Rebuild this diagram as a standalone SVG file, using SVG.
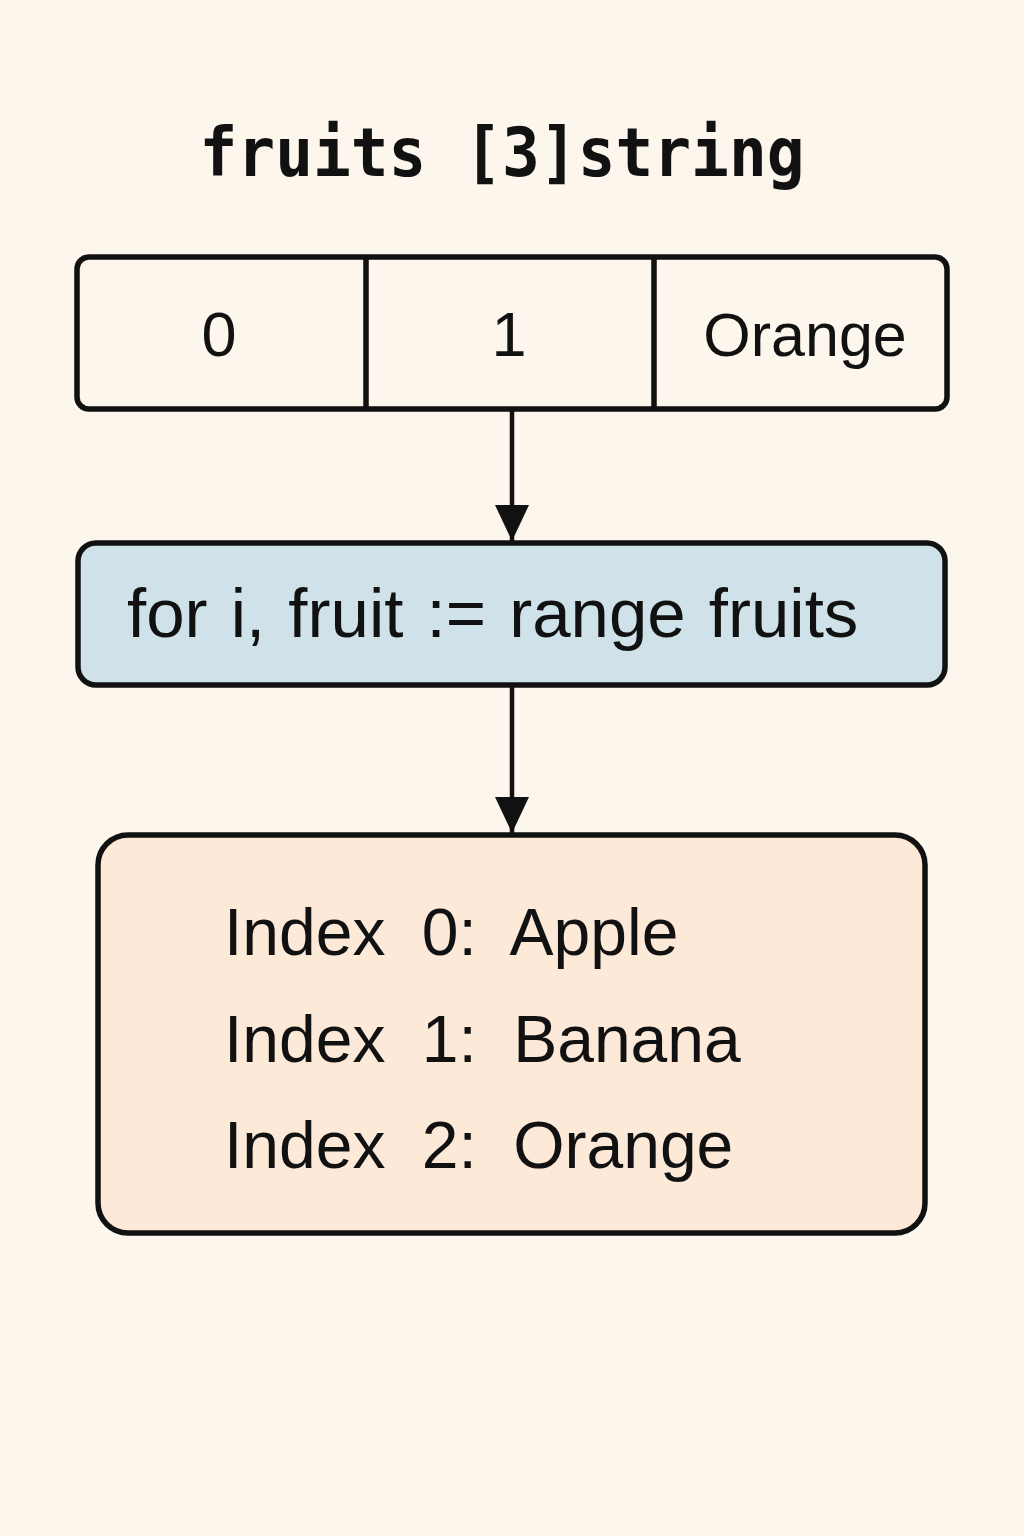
<svg xmlns="http://www.w3.org/2000/svg" width="1024" height="1536" viewBox="0 0 1024 1536">
<style>
.box{stroke:#111;stroke-width:5.5}
.t{font-family:"Liberation Sans",Arial,sans-serif;fill:#111}
.conn{stroke:#111;stroke-width:4.5;fill:none}
</style>
<defs>
<marker id="ah" viewBox="0 0 36 34" refX="36" refY="17" markerWidth="36" markerHeight="34" markerUnits="userSpaceOnUse" orient="auto">
<path d="M0,0 L36,17 L0,34 Z" fill="#111"/>
</marker>
</defs>
<rect width="1024" height="1536" fill="#fdf6ec"/>
<g id="title">
<text x="502" y="176" text-anchor="middle" font-family="DejaVu Sans Mono,monospace" font-weight="bold" font-size="68" fill="#111" textLength="605" lengthAdjust="spacingAndGlyphs">fruits [3]string</text>
</g>
<g id="array">
<rect class="box" x="77" y="257" width="870" height="152" rx="12" fill="#fdf6ec"/>
<line class="box" x1="366" y1="257" x2="366" y2="409"/>
<line class="box" x1="654" y1="257" x2="654" y2="409"/>
<text class="t" x="219" y="356" font-size="63" text-anchor="middle">0</text>
<text class="t" x="509" y="356" font-size="63" text-anchor="middle">1</text>
<text class="t" x="805" y="356" font-size="61" text-anchor="middle">Orange</text>
</g>
<g id="loop">
<rect class="box" x="78" y="543" width="867" height="142" rx="18" fill="#cfe2ea"/>
<text class="t" x="127" y="637" font-size="69" word-spacing="4">for i, fruit := range fruits</text>
</g>
<g id="output">
<rect class="box" x="98" y="835" width="827" height="398" rx="30" fill="#fce9d8"/>
<text class="t" x="224" y="955" font-size="66" word-spacing="18">Index 0: Apple</text>
<text class="t" x="224" y="1062" font-size="66" word-spacing="18">Index 1: Banana</text>
<text class="t" x="224" y="1168" font-size="66" word-spacing="18">Index 2: Orange</text>
</g>
<g id="connectors">
<line class="conn" x1="512" y1="409" x2="512" y2="541" marker-end="url(#ah)"/>
<line class="conn" x1="512" y1="685" x2="512" y2="833" marker-end="url(#ah)"/>
</g>
</svg>
